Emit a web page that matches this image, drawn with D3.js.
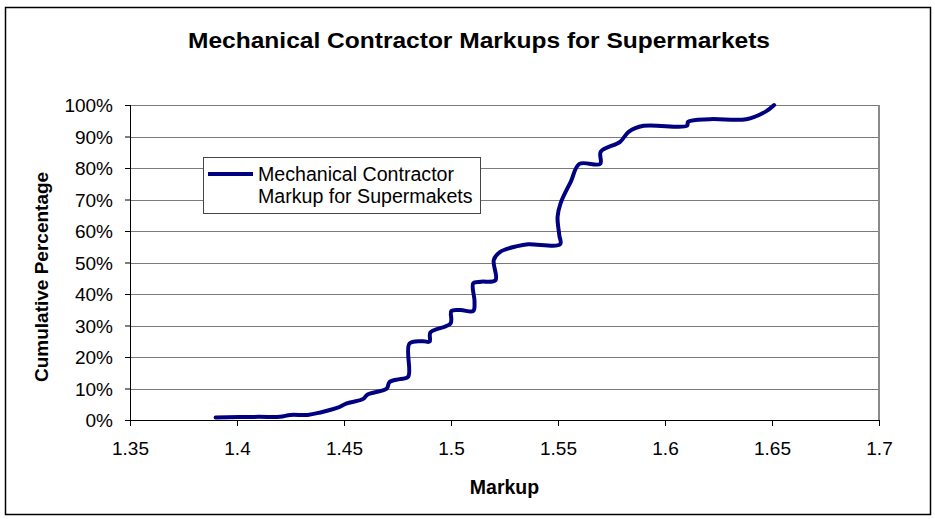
<!DOCTYPE html>
<html>
<head>
<meta charset="utf-8">
<script src="https://cdn.jsdelivr.net/npm/d3@7"></script>
<style>
  body { margin: 0; background: #fff; }
  text { font-family: "Liberation Sans", Arial, sans-serif; }
</style>
</head>
<body>
<script>
const w = 935
const h = 519

// Data: markup vs cumulative percentage
const markup = [1.390, 1.410, 1.420, 1.425, 1.433, 1.439, 1.447, 1.451, 1.459, 1.461,
                1.470, 1.4712, 1.476, 1.480, 1.4806, 1.487, 1.4900, 1.4904, 1.4998, 1.5002,
                1.5045, 1.5104, 1.5110, 1.5104, 1.514, 1.5208, 1.5200, 1.523, 1.531, 1.536,
                1.5510, 1.5506, 1.5498, 1.5512, 1.556, 1.560, 1.5697, 1.5700, 1.579, 1.583,
                1.590, 1.6103, 1.6108, 1.621, 1.638, 1.647, 1.651]
const cumPct = [0.8, 1.0, 1.0, 1.6, 1.6, 2.4, 3.9, 5.2, 6.7, 8.1,
                10.0, 12.0, 13.0, 13.7, 24.3, 25.0, 24.9, 27.8, 30.7, 34.6,
                34.9, 34.6, 37.6, 43.4, 43.9, 44.4, 50.8, 53.4, 55.2, 55.8,
                55.8, 58.7, 64.5, 68.8, 75.7, 81.3, 81.3, 85.2, 88.3, 91.5,
                93.4, 93.4, 94.7, 95.5, 95.5, 97.9, 100]
const xTicks = [1.35, 1.4, 1.45, 1.5, 1.55, 1.6, 1.65, 1.7]
const yTicks = [0, 10, 20, 30, 40, 50, 60, 70, 80, 90, 100]

const seriesName = ["Mechanical Contractor", "Markup for Supermakets"]
const lineColor = "#000080"

const svg = d3.select("body")
              .append("svg")
              .attr("width", w)
              .attr("height", h)

// outer chart border
svg.append("rect")
   .attr("x", 5.5).attr("y", 7.5)
   .attr("width", 925).attr("height", 507)
   .attr("fill", "#fff")
   .attr("stroke", "#000")
   .attr("stroke-width", 1.5)

const x = d3.scaleLinear().domain([1.35, 1.7]).range([130, 879])
const y = d3.scaleLinear().domain([0, 100]).range([420, 105])

// gridlines
svg.append("g")
   .selectAll("line")
   .data(yTicks.filter(d => d > 0))
   .enter()
   .append("line")
     .attr("x1", x(1.35)).attr("x2", x(1.7))
     .attr("y1", d => Math.round(y(d)) + 0.5)
     .attr("y2", d => Math.round(y(d)) + 0.5)
     .attr("stroke", "#7a7a7a")

// right border of plot area
svg.append("line")
   .attr("x1", x(1.7)).attr("x2", x(1.7))
   .attr("y1", y(100)).attr("y2", y(0))
   .attr("stroke", "#8a8a8a")
   .attr("stroke-width", 2)

// axes
const xAxis = d3.axisBottom(x)
                .tickValues(xTicks)
                .tickSize(6)
                .tickFormat(d => String(+d.toFixed(2)))
const yAxis = d3.axisLeft(y)
                .tickValues(yTicks)
                .tickSize(5)
                .tickPadding(12)
                .tickFormat(d => d + "%")

const gx = svg.append("g")
              .attr("transform", `translate(0, ${y(0)})`)
              .call(xAxis)
gx.selectAll("text")
  .attr("y", 35).attr("dy", 0)
  .attr("font-size", 19)
  .attr("fill", "#000")

const gy = svg.append("g")
              .attr("transform", `translate(${x(1.35)}, 0)`)
              .call(yAxis)
gy.selectAll("text")
  .attr("font-size", 19)
  .attr("dy", "0.35em")
  .attr("fill", "#000")

svg.selectAll(".domain, .tick line").attr("stroke", "#000")
gx.select(".domain").attr("d", `M${x(1.35)},0.5H${x(1.7)}`)
gy.select(".domain").attr("d", `M0.5,${y(100)}V${y(0)}`)

// the curve
const line = d3.line()
               .x(i => x(markup[i]))
               .y(i => y(cumPct[i]))
               .curve(d3.curveCatmullRom.alpha(0.5))

svg.append("path")
   .attr("d", line(d3.range(markup.length)))
   .attr("fill", "none")
   .attr("stroke", lineColor)
   .attr("stroke-width", 4)
   .attr("stroke-linejoin", "round")
   .attr("stroke-linecap", "round")

// legend
const legend = svg.append("g")
legend.append("rect")
      .attr("x", 203.5).attr("y", 157.5)
      .attr("width", 277).attr("height", 56)
      .attr("fill", "#fff")
      .attr("stroke", "#444")
legend.append("line")
      .attr("x1", 208).attr("x2", 253)
      .attr("y1", 174).attr("y2", 174)
      .attr("stroke", lineColor)
      .attr("stroke-width", 4)
legend.selectAll("text")
      .data(seriesName)
      .enter()
      .append("text")
        .attr("x", 258)
        .attr("y", (d, i) => 181 + i * 22)
        .attr("font-size", 19.6)
        .text(d => d)

// titles
svg.append("text")
   .attr("x", 188).attr("y", 48)
   .attr("font-size", 22)
   .attr("font-weight", "bold")
   .attr("textLength", 582)
   .attr("lengthAdjust", "spacingAndGlyphs")
   .text("Mechanical Contractor Markups for Supermarkets")

svg.append("text")
   .attr("x", x(1.525)).attr("y", 494)
   .attr("text-anchor", "middle")
   .attr("font-size", 19.5)
   .attr("font-weight", "bold")
   .text("Markup")

svg.append("text")
   .attr("transform", "translate(48, 382) rotate(-90)")
   .attr("font-size", 19)
   .attr("font-weight", "bold")
   .text("Cumulative Percentage")
</script>
</body>
</html>
